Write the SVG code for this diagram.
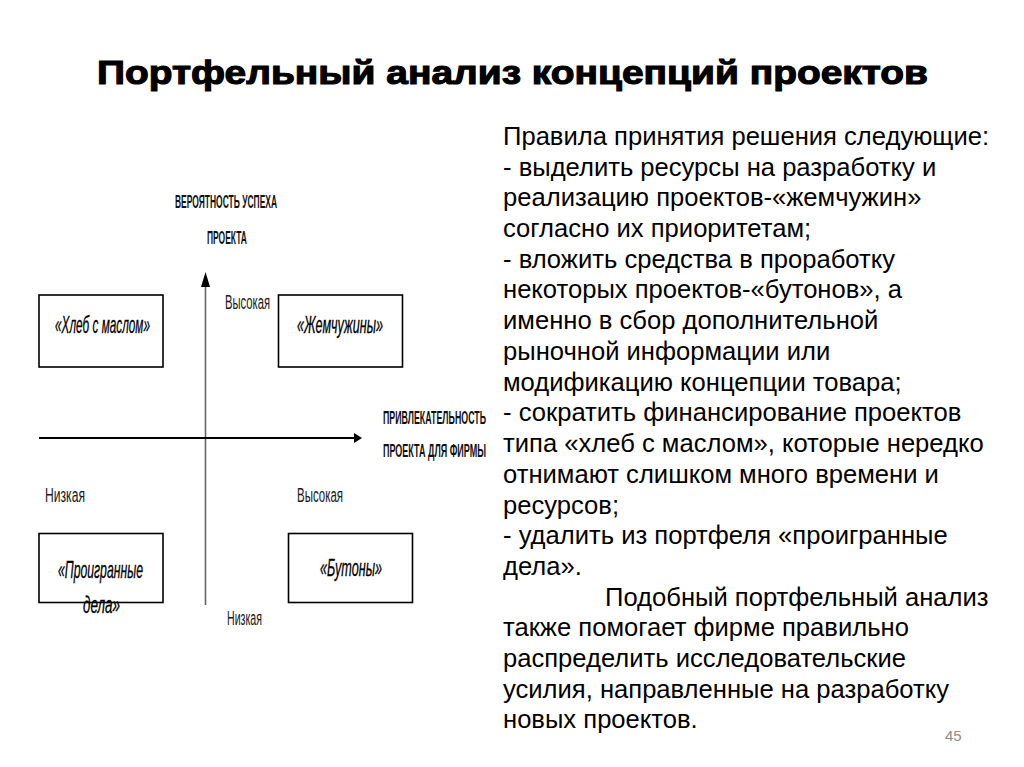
<svg xmlns="http://www.w3.org/2000/svg" width="1024" height="767" viewBox="0 0 1024 767">
<defs>
<style>
.title{font-family:"Liberation Sans",Arial,sans-serif;font-weight:bold;font-size:33px;fill:#000;stroke:#000;stroke-width:1.1}
.body{font-family:"Liberation Sans",Arial,sans-serif;font-size:25.6px;fill:#000}
.lbl{font-family:"Liberation Sans",Arial,sans-serif;font-size:21px;fill:#1a1a1a}
.ax{font-family:"Liberation Sans",Arial,sans-serif;font-size:18px;font-weight:bold;fill:#111}
.box{fill:#fff;stroke:#000;stroke-width:1.6}
.bt{font-family:"Liberation Sans",Arial,sans-serif;font-size:23px;font-style:italic;fill:#000;stroke:#000;stroke-width:0.3}
.num{font-family:"Liberation Sans",Arial,sans-serif;font-size:15px;fill:#8c8c8c}
</style>
</defs>
<rect width="1024" height="767" fill="#fff"/>
<text class="title" x="97" y="84" textLength="831" lengthAdjust="spacingAndGlyphs">Портфельный анализ концепций проектов</text>

<g id="connectors">
<line x1="205.5" y1="605" x2="205.5" y2="283" stroke="#666" stroke-width="1.6"/>
<path d="M205.5,272 L201,287 L210,287 Z" fill="#000"/>
<line x1="39" y1="438" x2="354" y2="438" stroke="#000" stroke-width="2.2"/>
<path d="M362,438 L354,433 L354,443 Z" fill="#000"/>
</g>

<g id="axis-labels">
<text class="ax" transform="translate(175,208) scale(0.55,1)" textLength="185.5" lengthAdjust="spacingAndGlyphs">ВЕРОЯТНОСТЬ УСПЕХА</text>
<text class="ax" transform="translate(207,244) scale(0.55,1)" textLength="72.7" lengthAdjust="spacingAndGlyphs">ПРОЕКТА</text>
<text class="ax" transform="translate(383,424) scale(0.55,1)" textLength="187.3" lengthAdjust="spacingAndGlyphs">ПРИВЛЕКАТЕЛЬНОСТЬ</text>
<text class="ax" transform="translate(383,457) scale(0.55,1)" textLength="187.3" lengthAdjust="spacingAndGlyphs">ПРОЕКТА ДЛЯ ФИРМЫ</text>
<text class="lbl" transform="translate(225,309) scale(0.65,1)" textLength="69.2" lengthAdjust="spacingAndGlyphs">Высокая</text>
<text class="lbl" transform="translate(45,502) scale(0.65,1)" textLength="61.5" lengthAdjust="spacingAndGlyphs">Низкая</text>
<text class="lbl" transform="translate(297,502) scale(0.65,1)" textLength="70.8" lengthAdjust="spacingAndGlyphs">Высокая</text>
<text class="lbl" transform="translate(227,625) scale(0.65,1)" textLength="53.8" lengthAdjust="spacingAndGlyphs">Низкая</text>
</g>

<g id="node-bread">
<rect class="box" x="39" y="295" width="124" height="72"/>
<text class="bt" transform="translate(55,333) scale(0.6,1)" textLength="158.3" lengthAdjust="spacingAndGlyphs">«Хлеб с маслом»</text>
</g>
<g id="node-pearls">
<rect class="box" x="278.5" y="295" width="124" height="72"/>
<text class="bt" transform="translate(297,333) scale(0.6,1)" textLength="143.3" lengthAdjust="spacingAndGlyphs">«Жемчужины»</text>
</g>
<g id="node-lost">
<rect class="box" x="39" y="533.5" width="124" height="69"/>
<text class="bt" transform="translate(58,578) scale(0.6,1)" textLength="141.7" lengthAdjust="spacingAndGlyphs">«Проигранные</text>
<text class="bt" transform="translate(83,613) scale(0.6,1)" textLength="61.7" lengthAdjust="spacingAndGlyphs">дела»</text>
</g>
<g id="node-buds">
<rect class="box" x="288.5" y="533.5" width="124" height="69"/>
<text class="bt" transform="translate(320,576) scale(0.6,1)" textLength="103.3" lengthAdjust="spacingAndGlyphs">«Бутоны»</text>
</g>

<g id="rules-text" class="body">
<text x="503" y="145">Правила принятия решения следующие:</text>
<text x="503" y="176">- выделить ресурсы на разработку и</text>
<text x="503" y="206">реализацию проектов-«жемчужин»</text>
<text x="503" y="237">согласно их приоритетам;</text>
<text x="503" y="268">- вложить средства в проработку</text>
<text x="503" y="298">некоторых проектов-«бутонов», а</text>
<text x="503" y="329">именно в сбор дополнительной</text>
<text x="503" y="360">рыночной информации или</text>
<text x="503" y="391">модификацию концепции товара;</text>
<text x="503" y="421">- сократить финансирование проектов</text>
<text x="503" y="452">типа «хлеб с маслом», которые нередко</text>
<text x="503" y="483">отнимают слишком много времени и</text>
<text x="503" y="514">ресурсов;</text>
<text x="503" y="544">- удалить из портфеля «проигранные</text>
<text x="503" y="575">дела».</text>
<text x="605" y="606">Подобный портфельный анализ</text>
<text x="503" y="636">также помогает фирме правильно</text>
<text x="503" y="667">распределить исследовательские</text>
<text x="503" y="698">усилия, направленные на разработку</text>
<text x="503" y="728">новых проектов.</text>
</g>
<text class="num" x="945" y="741">45</text>
</svg>
